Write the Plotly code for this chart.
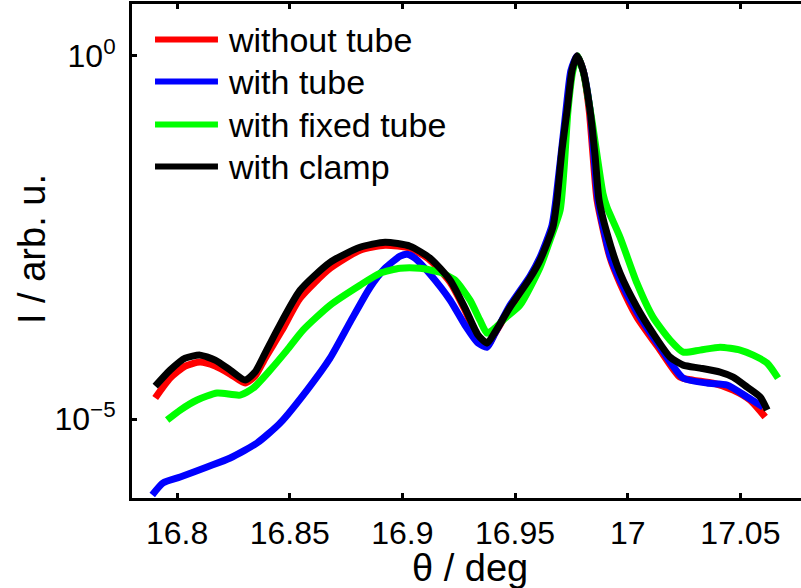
import plotly.graph_objects as go

# ---------------- data ----------------
series_names = ["without tube", "with tube", "with fixed tube", "with clamp"]
series_colors = ["#ff0000", "#0000ff", "#00ff00", "#000000"]

x_without = [16.7903, 16.7969, 16.8036, 16.8102, 16.8169, 16.8236, 16.8302, 16.8346, 16.8391, 16.8466,
             16.8546, 16.8679, 16.8812, 16.8923, 16.9034, 16.9123, 16.9212, 16.9278, 16.9336, 16.9376,
             16.9411, 16.9478, 16.9566, 16.9611, 16.9668, 16.9690, 16.9731, 16.9753, 16.9775, 16.9802,
             16.9829, 16.9846, 16.9864, 16.9921, 16.9966, 17.0041, 17.0144, 17.0232, 17.0290, 17.0379,
             17.0468, 17.0543, 17.0610]
y_without = [1.95e-5, 3.66e-5, 5.36e-5, 6.08e-5, 5.36e-5, 4.16e-5, 3.13e-5, 3.90e-5, 6.90e-5, 1.68e-4,
             4.62e-4, 1.19e-3, 2.11e-3, 2.47e-3, 2.25e-3, 1.54e-3, 7.66e-4, 3.16e-4, 1.30e-4, 1.01e-4,
             1.52e-4, 3.37e-4, 8.40e-4, 1.50e-3, 4.24e-3, 1.03e-2, 0.178, 0.632, 1.0, 0.632,
             0.178, 0.0428, 1.03e-2, 1.69e-3, 7.42e-4, 2.53e-4, 8.9e-5, 3.78e-5, 3.44e-5, 3.13e-5,
             2.51e-5, 1.83e-5, 1.07e-5]

x_tube = [16.7890, 16.7938, 16.8014, 16.8133, 16.8236, 16.8355, 16.8457, 16.8577, 16.8679, 16.8768,
          16.8857, 16.8923, 16.8990, 16.9021, 16.9056, 16.9123, 16.9212, 16.9278, 16.9336, 16.9376,
          16.9411, 16.9478, 16.9566, 16.9611, 16.9664, 16.9681, 16.9726, 16.9748, 16.9775, 16.9802,
          16.9833, 16.9868, 16.9921, 16.9966, 17.0041, 17.0144, 17.0246, 17.0352, 17.0441, 17.0530,
          17.0601]
y_tube = [9.0e-7, 1.32e-6, 1.59e-6, 2.19e-6, 2.91e-6, 4.68e-6, 8.8e-6, 2.51e-5, 6.9e-5, 2.16e-4,
          6.54e-4, 1.19e-3, 1.75e-3, 1.86e-3, 1.64e-3, 9.87e-4, 4.33e-4, 1.96e-4, 1.11e-4, 9.77e-5,
          1.52e-4, 3.70e-4, 9.27e-4, 1.69e-3, 4.66e-3, 1.03e-2, 0.178, 0.632, 1.0, 0.632,
          0.178, 1.03e-2, 1.80e-3, 8.16e-4, 2.96e-4, 9.77e-5, 3.66e-5, 3.13e-5, 2.94e-5, 2.01e-5,
          1.46e-5]

x_fixed = [16.7956, 16.8014, 16.8089, 16.8178, 16.8280, 16.8338, 16.8413, 16.8488, 16.8559, 16.8679,
           16.8812, 16.8901, 16.8990, 16.9078, 16.9167, 16.9234, 16.9300, 16.9344, 16.9376, 16.9411,
           16.9456, 16.9522, 16.9611, 16.9655, 16.9700, 16.9717, 16.9735, 16.9757, 16.9779, 16.9806,
           16.9841, 16.9890, 16.9908, 16.9966, 17.0041, 17.0112, 17.0188, 17.0246, 17.0321, 17.0410,
           17.0499, 17.0557, 17.0619, 17.0667]
y_fixed = [9.7e-6, 1.33e-5, 1.83e-5, 2.28e-5, 2.14e-5, 2.67e-5, 4.72e-5, 8.9e-5, 1.68e-4, 3.70e-4,
           6.97e-4, 1.02e-3, 1.19e-3, 1.19e-3, 1.05e-3, 8.16e-4, 4.33e-4, 2.30e-4, 1.52e-4, 1.79e-4,
           2.45e-4, 3.70e-4, 1.23e-3, 2.90e-3, 7.5e-3, 0.0266, 0.178, 0.632, 1.0, 0.539,
           0.130, 0.0128, 8.24e-3, 3.19e-3, 7.42e-4, 2.53e-4, 1.22e-4, 8.35e-5, 8.9e-5, 9.77e-5,
           8.9e-5, 7.59e-5, 5.89e-5, 3.66e-5]

x_clamp = [16.7903, 16.7969, 16.8036, 16.8102, 16.8169, 16.8236, 16.8302, 16.8346, 16.8382, 16.8444,
           16.8546, 16.8679, 16.8812, 16.8923, 16.9034, 16.9123, 16.9212, 16.9278, 16.9336, 16.9376,
           16.9411, 16.9478, 16.9566, 16.9611, 16.9668, 16.9686, 16.9708, 16.9731, 16.9753, 16.9775,
           16.9802, 16.9833, 16.9855, 16.9873, 16.9908, 16.9966, 17.0041, 17.0112, 17.0188, 17.0246,
           17.0321, 17.0410, 17.0468, 17.0530, 17.0588, 17.0619]
y_clamp = [2.84e-5, 4.72e-5, 6.90e-5, 7.59e-5, 6.48e-5, 4.72e-5, 3.44e-5, 4.43e-5, 7.13e-5, 1.68e-4,
           5.94e-4, 1.44e-3, 2.32e-3, 2.72e-3, 2.40e-3, 1.64e-3, 8.16e-4, 3.37e-4, 1.43e-4, 1.11e-4,
           1.57e-4, 3.47e-4, 8.69e-4, 1.54e-3, 4.38e-3, 1.03e-2, 5.0e-2, 0.178, 0.632, 1.0,
           0.632, 0.178, 0.0428, 1.03e-2, 3.62e-3, 1.02e-3, 3.47e-4, 1.52e-4, 7.13e-5, 5.53e-5,
           5.03e-5, 4.43e-5, 3.78e-5, 2.75e-5, 2.01e-5, 1.33e-5]

x_tickvals = [16.8, 16.85, 16.9, 16.95, 17.0, 17.05]
x_ticktext = ["16.8", "16.85", "16.9", "16.95", "17", "17.05"]
y_tickvals = [1e-5, 1.0]
y_ticktext = ["10<sup>\u22125</sup>", "10<sup>0</sup>"]

x_label = "\u03b8 / deg"
y_label = "I / arb. u."

# ---------------- figure ----------------
FONT = "Liberation Sans, Arial, sans-serif"
TICK_SIZE = 32
TITLE_SIZE = 38
LEG_SIZE = 34
xs = [x_without, x_tube, x_fixed, x_clamp]
ys = [y_without, y_tube, y_fixed, y_clamp]

fig = go.Figure()
for name, color, xv, yv in zip(series_names, series_colors, xs, ys):
    fig.add_trace(go.Scatter(
        x=xv, y=yv, mode="lines", name=name,
        line=dict(color=color, width=7, shape="spline", smoothing=0.6),
        showlegend=False, hoverinfo="skip",
    ))

# manual legend (long line samples like the original)
leg_rows = [0.928, 0.843, 0.756, 0.671]
for name, color, yy in zip(series_names, series_colors, leg_rows):
    fig.add_shape(type="line", xref="paper", yref="paper",
                  x0=0.0344, x1=0.1285, y0=yy, y1=yy,
                  line=dict(color=color, width=6))
    fig.add_annotation(xref="paper", yref="paper", x=0.1405, y=yy,
                       text=name, showarrow=False, xanchor="left", yanchor="middle",
                       font=dict(family=FONT, size=LEG_SIZE, color="black"))

# axis titles
fig.add_annotation(xref="paper", yref="paper", x=0.505, y=-0.142,
                   text=x_label, showarrow=False, xanchor="center", yanchor="middle",
                   font=dict(family=FONT, size=TITLE_SIZE, color="black"))
fig.add_annotation(xref="paper", yref="paper", x=-0.1495, y=0.504,
                   text=y_label, showarrow=False, textangle=-90,
                   xanchor="center", yanchor="middle",
                   font=dict(family=FONT, size=TITLE_SIZE, color="black"))

fig.update_layout(
    width=801, height=588,
    margin=dict(l=132, r=0, t=4, b=90),
    paper_bgcolor="white", plot_bgcolor="white",
    font=dict(family=FONT, size=TICK_SIZE, color="black"),
    showlegend=False,
)
fig.update_xaxes(
    range=[16.78, 17.0769],
    tickvals=x_tickvals, ticktext=x_ticktext,
    ticks="inside", ticklen=5, tickwidth=3, tickcolor="black",
    showline=True, linewidth=3, linecolor="black", mirror="ticks",
    showgrid=False, zeroline=False,
    ticklabelstandoff=5,
    tickfont=dict(family=FONT, size=TICK_SIZE),
)
fig.update_yaxes(
    type="log", range=[-6.087, 0.715],
    tickvals=y_tickvals, ticktext=y_ticktext,
    ticks="inside", ticklen=5, tickwidth=3, tickcolor="black",
    showline=True, linewidth=3, linecolor="black", mirror=False,
    showgrid=False, zeroline=False,
    ticklabelstandoff=7,
    tickfont=dict(family=FONT, size=TICK_SIZE),
)

fig.write_html("out.html", config={"displayModeBar": False},
               post_script="document.body.style.margin='0px';")
